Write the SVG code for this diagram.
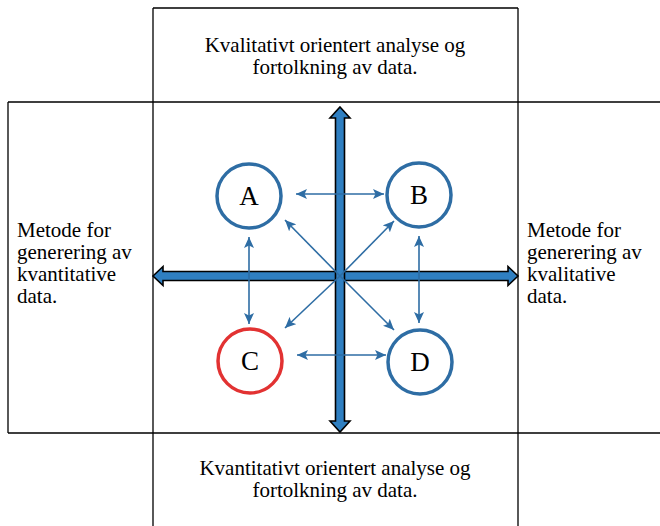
<svg xmlns="http://www.w3.org/2000/svg" width="660" height="526" viewBox="0 0 660 526">
<style>
.frame{fill:none;stroke:#000;stroke-width:1.3}
.txt{font-family:"Liberation Serif","Times New Roman",serif;font-size:21px;fill:#000}
.big{fill:#2f7fc1;stroke:#000;stroke-width:1.6;stroke-linejoin:miter}
.circ{fill:#fff;stroke:#2e6da4;stroke-width:3.5}
.red{stroke:#e23232}
.lbl{font-family:"Liberation Serif","Times New Roman",serif;font-size:27px;fill:#000;text-anchor:middle}
.sm{stroke:#2e6da4;stroke-width:1.6;fill:none}
</style>
<defs>
<marker id="ah" markerUnits="userSpaceOnUse" markerWidth="12" markerHeight="10" refX="11" refY="5" orient="auto-start-reverse">
<path d="M0,0 L11,5 L0,10 L2.5,5 z" fill="#2e6da4"/>
</marker>
</defs>
<g id="frame">
<path class="frame" d="M153,8 H518 M153,8 V526 M518,8 V526 M8,102 H660 M8,433 H660 M8,102 V433"/>
</g>
<g id="top-text">
<text class="txt" x="335" y="52" text-anchor="middle">Kvalitativt orientert analyse og</text>
<text class="txt" x="335" y="74" text-anchor="middle">fortolkning av data.</text>
</g>
<g id="bottom-text">
<text class="txt" x="335" y="475" text-anchor="middle">Kvantitativt orientert analyse og</text>
<text class="txt" x="335" y="497" text-anchor="middle">fortolkning av data.</text>
</g>
<g id="left-text">
<text class="txt" x="17" y="237">Metode for</text>
<text class="txt" x="17" y="259">generering av</text>
<text class="txt" x="17" y="281">kvantitative</text>
<text class="txt" x="17" y="303">data.</text>
</g>
<g id="right-text">
<text class="txt" x="527" y="237">Metode for</text>
<text class="txt" x="527" y="259">generering av</text>
<text class="txt" x="527" y="281">kvalitative</text>
<text class="txt" x="527" y="303">data.</text>
</g>
<g id="axes">
<polygon class="big" points="153,276 163,266.5 163,271.5 508,271.5 508,266.5 518,276 508,285.5 508,280.5 163,280.5 163,285.5"/>
<polygon class="big" points="340,107 350,118 344.5,118 344.5,421 350,421 340,432 330,421 335.5,421 335.5,118 330,118"/>
</g>
<g id="connectors">
<line class="sm" x1="296" y1="194" x2="384" y2="194" marker-start="url(#ah)" marker-end="url(#ah)"/>
<line class="sm" x1="297" y1="355" x2="386" y2="355" marker-start="url(#ah)" marker-end="url(#ah)"/>
<line class="sm" x1="249" y1="237" x2="249" y2="324" marker-start="url(#ah)" marker-end="url(#ah)"/>
<line class="sm" x1="419" y1="236" x2="419" y2="323" marker-start="url(#ah)" marker-end="url(#ah)"/>
<line class="sm" x1="340" y1="276" x2="285" y2="220" marker-end="url(#ah)"/>
<line class="sm" x1="340" y1="276" x2="394" y2="221" marker-end="url(#ah)"/>
<line class="sm" x1="340" y1="276" x2="285" y2="328" marker-end="url(#ah)"/>
<line class="sm" x1="340" y1="276" x2="394" y2="330" marker-end="url(#ah)"/>
</g>
<g id="node-A">
<circle class="circ" cx="249" cy="196" r="32"/>
<text class="lbl" x="249" y="205">A</text>
</g>
<g id="node-B">
<circle class="circ" cx="419" cy="195" r="32"/>
<text class="lbl" x="419" y="204">B</text>
</g>
<g id="node-C">
<circle class="circ red" cx="250" cy="361" r="32"/>
<text class="lbl" x="250" y="370">C</text>
</g>
<g id="node-D">
<circle class="circ" cx="420" cy="362" r="32"/>
<text class="lbl" x="420" y="371">D</text>
</g>
</svg>
